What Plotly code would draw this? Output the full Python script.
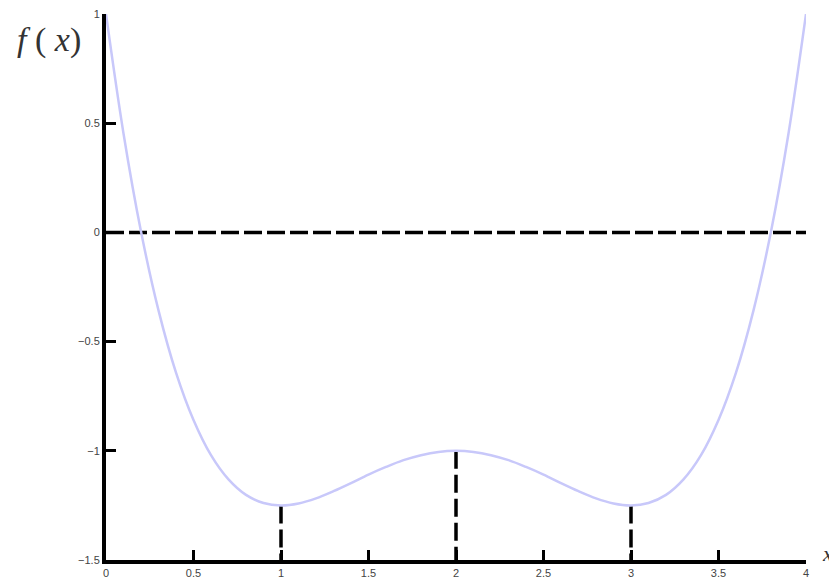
import plotly.graph_objects as go

# Curve values
x_vals = [0.0, 0.1, 0.2, 0.3, 0.4, 0.5, 0.6, 0.7, 0.8, 0.9, 1.0,
          1.1, 1.2, 1.3, 1.4, 1.5, 1.6, 1.7, 1.8, 1.9, 2.0,
          2.1, 2.2, 2.3, 2.4, 2.5, 2.6, 2.7, 2.8, 2.9, 3.0,
          3.1, 3.2, 3.3, 3.4, 3.5, 3.6, 3.7, 3.8, 3.9, 4.0]
y_vals = [1.0, 0.453, 0.004, -0.357, -0.642, -0.859, -1.020, -1.131, -1.202, -1.239, -1.25,
          -1.241, -1.218, -1.185, -1.148, -1.109, -1.074, -1.043, -1.020, -1.005, -1.0,
          -1.005, -1.020, -1.043, -1.074, -1.109, -1.148, -1.185, -1.218, -1.241, -1.25,
          -1.239, -1.202, -1.131, -1.020, -0.859, -0.642, -0.357, 0.004, 0.453, 1.0]

# Critical points (dashed drop lines)
crit_x = [1, 2, 3]
crit_y = [-1.25, -1.0, -1.25]
y_floor = -1.5

# Horizontal reference line
ref_x = [0, 4]
ref_y = [0, 0]

x_ticks = [0, 0.5, 1, 1.5, 2, 2.5, 3, 3.5, 4]
x_ticklabels = ["0", "0.5", "1", "1.5", "2", "2.5", "3", "3.5", "4"]
y_ticks = [-1.5, -1, -0.5, 0, 0.5, 1]
y_ticklabels = ["\u22121.5", "\u22121", "\u22120.5", "0", "0.5", "1"]

fig = go.Figure()

fig.add_trace(go.Scatter(x=ref_x, y=ref_y, mode="lines",
                         line=dict(color="black", width=3.5, dash="18px,5px"),
                         hoverinfo="skip", showlegend=False))

for cx, cy in zip(crit_x, crit_y):
    fig.add_trace(go.Scatter(x=[cx, cx], y=[cy, y_floor], mode="lines",
                             line=dict(color="black", width=3.5, dash="18px,6px"),
                             hoverinfo="skip", showlegend=False))

fig.add_trace(go.Scatter(x=x_vals, y=y_vals, mode="lines",
                         line=dict(color="#c8c8fa", width=2.5, shape="spline"),
                         showlegend=False))

axis_common = dict(showgrid=False, zeroline=False, showline=True, linecolor="black",
                   linewidth=4, ticks="inside", ticklen=10, tickwidth=3, tickcolor="black",
                   automargin=False, ticklabeloverflow="allow",
                   tickfont=dict(family="Liberation Sans", size=11, color="#444444"))

fig.update_xaxes(range=[0, 4], tickvals=x_ticks, ticktext=x_ticklabels, **axis_common)
fig.update_yaxes(range=[-1.5, 1], tickvals=y_ticks, ticktext=y_ticklabels, **axis_common)

fig.add_annotation(xref="paper", yref="paper", x=-0.082, y=0.952, showarrow=False,
                   xanchor="center", yanchor="middle",
                   text="<i>f</i> ( <i>x</i>)", font=dict(family="Liberation Serif", size=34, color="#333"))
fig.add_annotation(xref="paper", yref="paper", x=1.03, y=0.012, showarrow=False,
                   xanchor="center", yanchor="middle",
                   text="<i>x</i>", font=dict(family="Liberation Serif", size=22, color="#333"))

# page body adds an 8px offset, so the figure is sized to the visible window minus it
fig.update_layout(width=829, height=577, plot_bgcolor="white", paper_bgcolor="white",
                  margin=dict(l=98, r=31, t=6, b=25))

fig.write_html("out.html")
